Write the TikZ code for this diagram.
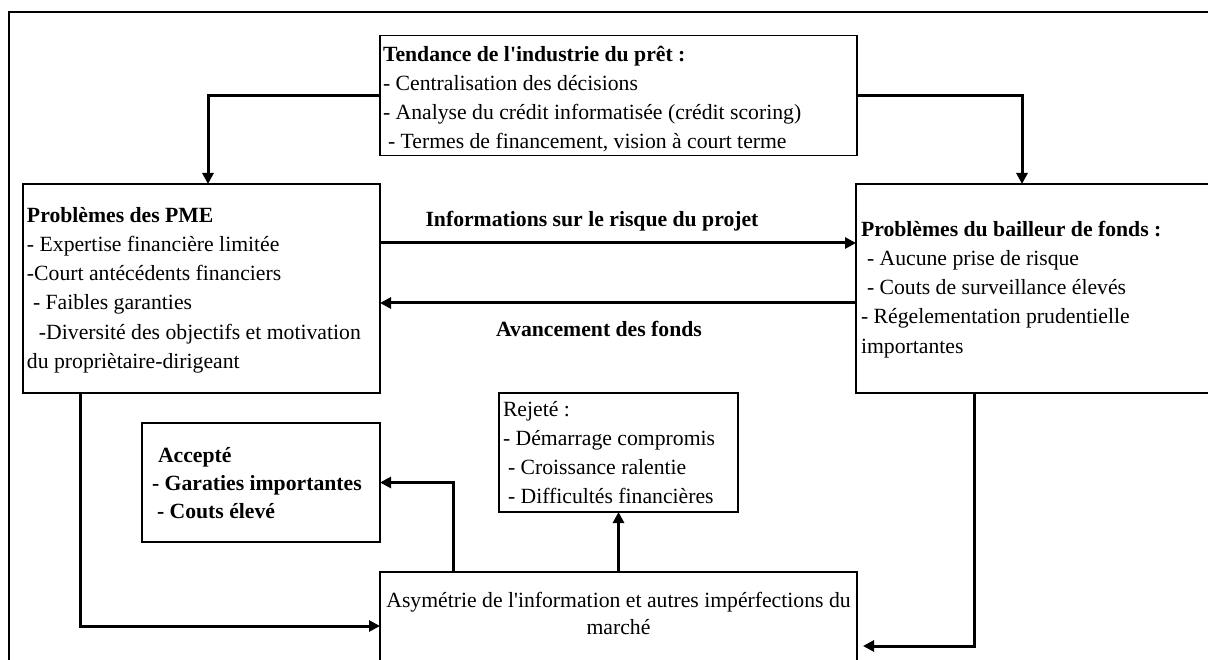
\documentclass[tikz,border=0pt]{standalone}
\usepackage{fontspec}
\setmainfont{Liberation Serif}[Ligatures=TeXOff]
\usetikzlibrary{arrows.meta}
\begin{document}
\begin{tikzpicture}[x=1pt,y=-1pt,
  box/.style={draw, line width=1.3pt, inner sep=0pt, outer sep=0pt, anchor=north west},
  txt/.style={inner sep=0pt, outer sep=0pt, anchor=north west, align=left,
    font=\fontsize{21.7}{29.3}\selectfont},
  lbl/.style={inner sep=0pt, outer sep=0pt, anchor=base,
    font=\fontsize{21.7}{29.3}\selectfont\bfseries},
  link/.style={line width=3pt, -{Triangle[length=11pt,width=11pt]}}]
\useasboundingbox (0,0) rectangle (1208,660);

% outer frame (only its top and left edges fall on the page)
\draw[line width=2.5pt] (9,680) -- (9,12) -- (1230,12);

% boxes
\node[box, minimum width=477pt, minimum height=120pt] (tend) at (380,35.5) {};
\node[box, minimum width=357pt, minimum height=209pt] (pme)  at (23,184) {};
\node[box, minimum width=380pt, minimum height=209pt] (bail) at (856,184) {};
\node[box, minimum width=238pt, minimum height=119pt] (acc)  at (142,423) {};
\node[box, minimum width=239pt, minimum height=119pt] (rej)  at (499,393) {};
\node[box, minimum width=477pt, minimum height=108pt] (asym) at (380,572) {};

% box texts
\node[txt] (tendtxt) at (383,40.5) {\strut\textbf{Tendance de l'industrie du prêt :}\\
  - Centralisation des décisions\\
  - Analyse du crédit informatisée (crédit scoring)\\
  \hspace*{5pt}- Termes de financement, vision à court terme};

\node[txt] (pmetxt) at (27,201.5) {\strut\textbf{Problèmes des PME}\\
  - Expertise financière limitée\\
  -Court antécédents financiers\\
  \hspace*{6pt}- Faibles garanties\\
  \hspace*{12pt}-Diversité des objectifs et motivation\\
  du propriètaire-dirigeant};

\node[txt] (bailtxt) at (861,215.5) {\strut\textbf{Problèmes du bailleur de fonds :}\\
  \hspace*{6pt}- Aucune prise de risque\\
  \hspace*{6pt}- Couts de surveillance élevés\\
  - Régelementation prudentielle\\
  importantes};

\node[txt, font=\fontsize{21.7}{28}\selectfont\bfseries] (acctxt) at (152,442.4) {\strut\hspace*{6pt}Accepté\\
  - Garaties importantes\\
  \hspace*{5pt}- Couts élevé};

\node[txt, font=\fontsize{21.7}{28.7}\selectfont] (rejtxt) at (503,396.9) {\strut Rejeté :\\
  - Démarrage compromis\\
  \hspace*{5pt}- Croissance ralentie\\
  \hspace*{5pt}- Difficultés financières};

\node[txt, anchor=north, align=center, font=\fontsize{21.7}{27}\selectfont]
  (asymtxt) at (618.5,588.5) {\strut Asymétrie de l'information et autres impérfections du\\ marché};

% arrow labels
\node[lbl] (infolbl) at (592,227) {Informations sur le risque du projet};
\node[lbl] (fondslbl) at (599,337) {Avancement des fonds};

% connectors
\draw[link] (tend.west) -| ([xshift=6.5pt]pme.north);
\draw[link] (tend.east) -| ([xshift=-24pt]bail.north);
\draw[link] ([yshift=45.5pt]pme.east) -- ([yshift=45.5pt]bail.west);
\draw[link] ([yshift=-14.5pt]bail.west) -- ([yshift=-14.5pt]pme.east);
\draw[link] ([xshift=-121.5pt]pme.south) |- (asym.west);
\draw[link] ([xshift=-72pt]bail.south) |- ([xshift=6pt,yshift=-20pt]asym.east);
\draw[link] ([xshift=-165.5pt]asym.north) |- (acc.east);
\draw[link] (asym.north) -- (rej.south);
\end{tikzpicture}
\end{document}
